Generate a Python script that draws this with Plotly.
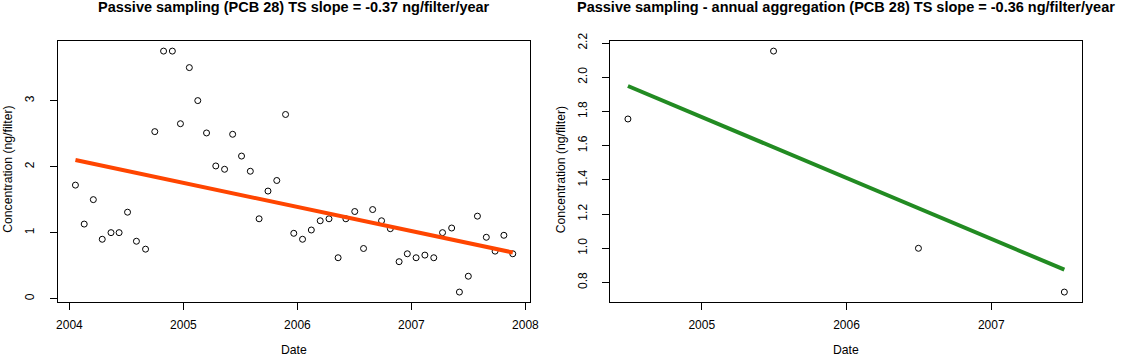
import plotly.graph_objects as go

# ---------------- data ----------------
# Left panel: individual passive samples (decimal year, ng/filter)
sample_dates = [2004.053, 2004.130, 2004.210, 2004.288, 2004.365, 2004.436, 2004.510,
                2004.588, 2004.668, 2004.749, 2004.826, 2004.903, 2004.974, 2005.052,
                2005.126, 2005.203, 2005.284, 2005.361, 2005.432, 2005.510, 2005.587,
                2005.664, 2005.742, 2005.819, 2005.896, 2005.968, 2006.045, 2006.122,
                2006.200, 2006.277, 2006.357, 2006.425, 2006.503, 2006.580, 2006.660,
                2006.738, 2006.815, 2006.892, 2006.964, 2007.041, 2007.118, 2007.196,
                2007.273, 2007.353, 2007.421, 2007.499, 2007.579, 2007.657, 2007.734,
                2007.811, 2007.889]
sample_conc = [1.72, 1.13, 1.50, 0.90, 1.00, 1.00, 1.31, 0.87, 0.75, 2.53, 3.75, 3.75,
               2.65, 3.50, 3.00, 2.51, 2.01, 1.96, 2.49, 2.16, 1.93, 1.21, 1.63, 1.79,
               2.79, 0.99, 0.90, 1.04, 1.18, 1.21, 0.62, 1.21, 1.32, 0.76, 1.35, 1.18,
               1.06, 0.56, 0.68, 0.62, 0.66, 0.62, 1.00, 1.07, 0.10, 0.34, 1.25, 0.93,
               0.72, 0.96, 0.68]
trend_left_x = [2004.053, 2007.889]
trend_left_y = [2.10, 0.70]

# Right panel: annual aggregation
annual_dates = [2004.490, 2005.496, 2006.497, 2007.505]
annual_conc = [1.756, 2.153, 1.000, 0.744]
trend_right_x = [2004.490, 2007.505]
trend_right_y = [1.949, 0.875]

left_xticks = [2004, 2005, 2006, 2007, 2008]
left_yticks = [0, 1, 2, 3]
right_xticks = [2005, 2006, 2007]
right_yticks = [0.8, 1.0, 1.2, 1.4, 1.6, 1.8, 2.0, 2.2]
right_ytick_labels = ["0.8", "1.0", "1.2", "1.4", "1.6", "1.8", "2.0", "2.2"]

title_left = "Passive sampling (PCB 28) TS slope = -0.37 ng/filter/year"
title_right = "Passive sampling - annual aggregation (PCB 28) TS slope = -0.36 ng/filter/year"
x_label = "Date"
y_label = "Concentration (ng/filter)"

# ---------------- figure ----------------
W, H = 1122, 356
FONT = "Liberation Sans, Arial, sans-serif"

fig = go.Figure()

marker = dict(symbol="circle-open", size=6, color="black", line=dict(width=1, color="black"))

fig.add_trace(go.Scatter(x=sample_dates, y=sample_conc, mode="markers", marker=marker,
                         xaxis="x", yaxis="y", showlegend=False, hoverinfo="skip"))
fig.add_trace(go.Scatter(x=trend_left_x, y=trend_left_y, mode="lines",
                         line=dict(color="#FF4500", width=4),
                         xaxis="x", yaxis="y", showlegend=False, hoverinfo="skip"))
fig.add_trace(go.Scatter(x=annual_dates, y=annual_conc, mode="markers", marker=marker,
                         xaxis="x2", yaxis="y2", showlegend=False, hoverinfo="skip"))
fig.add_trace(go.Scatter(x=trend_right_x, y=trend_right_y, mode="lines",
                         line=dict(color="#228B22", width=4),
                         xaxis="x2", yaxis="y2", showlegend=False, hoverinfo="skip"))


def r_range(vals):
    lo, hi = min(vals), max(vals)
    d = (hi - lo) * 0.04
    return [lo - d, hi + d]


ydom = [(H - 300.3) / H, (H - 33.3) / H]
xdom1 = [56.5 / W, 533.5 / W]
xdom2 = [614.5 / W, 1090.5 / W]

axis_common = dict(showline=True, mirror=True, linecolor="black", linewidth=1,
                   ticks="outside", ticklen=7, tickwidth=1, tickcolor="black",
                   showgrid=False, zeroline=False,
                   tickfont=dict(family=FONT, size=12, color="black"))

fig.update_layout(
    width=W, height=H,
    margin=dict(l=0, r=0, t=0, b=0),
    paper_bgcolor="white", plot_bgcolor="white",
    font=dict(family=FONT, color="black"),
    xaxis=dict(domain=xdom1, range=r_range(sample_dates), tickmode="array",
               tickvals=left_xticks, ticktext=[str(v) for v in left_xticks],
               anchor="y", ticklabelstandoff=5, **axis_common),
    yaxis=dict(domain=ydom, range=r_range(sample_conc), tickmode="array",
               tickvals=left_yticks, ticktext=[str(v) for v in left_yticks],
               tickangle=-90, anchor="x", ticklabelstandoff=11, **axis_common),
    xaxis2=dict(domain=xdom2, range=r_range(annual_dates), tickmode="array",
                tickvals=right_xticks, ticktext=[str(v) for v in right_xticks],
                anchor="y2", ticklabelstandoff=5, **axis_common),
    yaxis2=dict(domain=ydom, range=r_range(annual_conc), tickmode="array",
                tickvals=right_yticks, ticktext=right_ytick_labels,
                tickangle=-90, anchor="x2", ticklabelstandoff=11, **axis_common),
)

ann = []
for dom, title in ((xdom1, title_left), (xdom2, title_right)):
    cx = (dom[0] + dom[1]) / 2
    ann.append(dict(text="<b>%s</b>" % title, x=cx, y=(H + 2) / H, xref="paper", yref="paper",
                    xanchor="center", yanchor="middle", showarrow=False,
                    font=dict(family=FONT, size=14.5, color="black")))
    ann.append(dict(text=x_label, x=cx, y=(H - 350) / H, xref="paper", yref="paper",
                    xanchor="center", yanchor="middle", showarrow=False,
                    font=dict(family=FONT, size=12.2, color="black")))
    ann.append(dict(text=y_label, x=(dom[0] * W - 50) / W, y=(H - 164.5) / H,
                    xref="paper", yref="paper", textangle=-90,
                    xanchor="center", yanchor="middle", showarrow=False,
                    font=dict(family=FONT, size=12.2, color="black")))
fig.update_layout(annotations=ann)

fig.write_html("out.html",
               config={"displayModeBar": False},
               post_script="document.body.style.margin='0px';"
                           "document.body.style.overflow='hidden';")
